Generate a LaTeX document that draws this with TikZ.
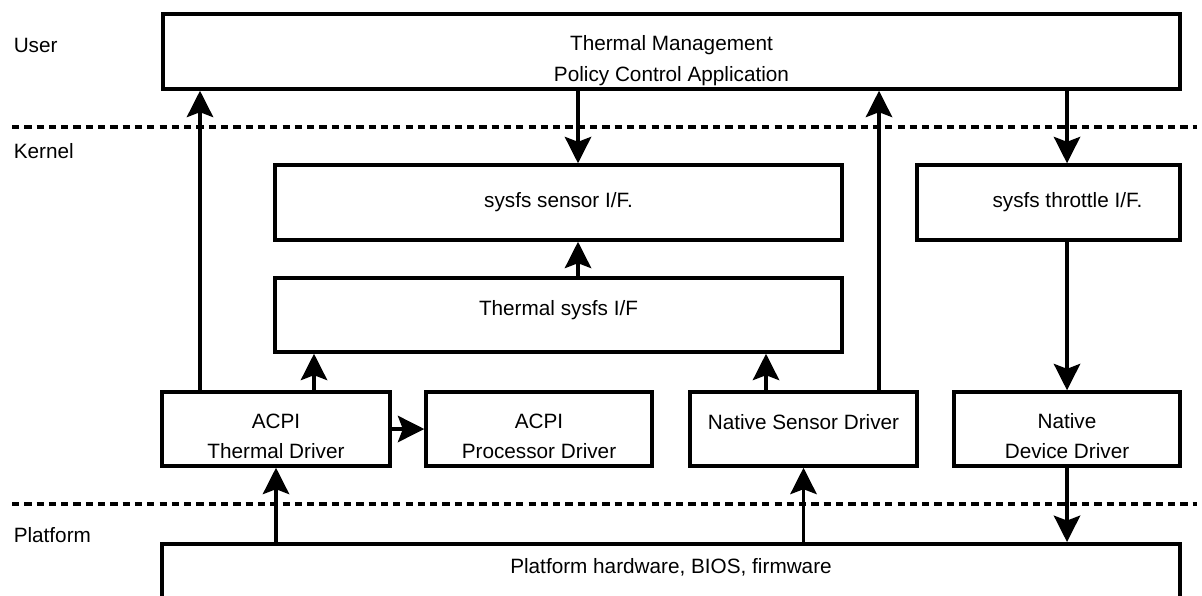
\documentclass[tikz,border=0pt]{standalone}
\usepackage{fontspec}
\setmainfont{Liberation Sans}
\usetikzlibrary{arrows.meta}

\tikzset{
  box/.style={draw, line width=2pt, minimum height=1.5cm, align=center, inner sep=0pt},
  firstline/.style={text height=0pt, text depth=0pt},
  twolines/.style={text height=34pt, text depth=0pt},
  layer/.style={line width=2pt, dash pattern=on 4.1pt off 2.9pt},
  side/.style={anchor=base west, inner sep=0pt},
}

\begin{document}
\begin{tikzpicture}[x=0.02cm, y=-0.02cm, >={Stealth[length=15pt,width=15pt,inset=2.8pt]}, line width=2pt, font=\fontsize{11.8pt}{17.3pt}\selectfont]
\useasboundingbox (0,0) rectangle (1202,595);

% layers
\draw [layer](12,127)--(1197,127);
\draw [layer](12,504)--(1197,504);
\node [side] (user) at (12,52){User};
\node [side] (kernel) at (12,158){Kernel};
\node [side] (platform) at (12,542){Platform};

% boxes
\node [box,twolines,minimum width=20.34cm] (app) at (671.5,51.5){Thermal Management\\Policy Control Application};
\node [box,minimum width=11.34cm] (sensor) at (558.5,202.5){sysfs sensor I/F.};
\node [box,minimum width=5.26cm] (throttle) at (1048.5,202.5){\hspace*{21.5pt}sysfs throttle I/F.};
\node [box,firstline,minimum width=11.34cm,minimum height=1.48cm] (tsysfs) at (558.5,315){Thermal sysfs I/F};
\node [box,twolines,minimum width=4.56cm,minimum height=1.48cm] (acpith) at (276,429){ACPI\\Thermal Driver};
\node [box,twolines,minimum width=4.52cm,minimum height=1.48cm] (acpipr) at (539,429){ACPI\\Processor Driver};
\node [box,firstline,minimum width=4.54cm,minimum height=1.48cm] (natsen) at (803.5,429){Native Sensor Driver};
\node [box,twolines,minimum width=4.52cm,minimum height=1.48cm] (natdev) at (1067,429){Native\\Device Driver};
\node [box,anchor=north,minimum width=20.36cm,minimum height=2cm] (plat) at (671,542){};
\node [anchor=base] (plattext) at (671,573){Platform hardware, BIOS, firmware};

% arrows
\coordinate (c1) at (200,0);
\coordinate (c2) at (314,0);
\coordinate (c3) at (578,0);
\coordinate (c4) at (766,0);
\coordinate (c5) at (879,0);
\draw [->](acpith.north -| c1)--(app.south -| c1);
\draw [->](acpith.north -| c2)--(tsysfs.south -| c2);
\draw [->](app.south -| c3)--(sensor.north -| c3);
\draw [->](tsysfs.north -| c3)--(sensor.south -| c3);
\draw [->](natsen.north -| c4)--(tsysfs.south -| c4);
\draw [->](natsen.north -| c5)--(app.south -| c5);
\draw [->](app.south -| natdev)--(throttle.north -| natdev);
\draw [->](throttle.south -| natdev)--(natdev.north);
\draw [->](natdev.south)--(plat.north -| natdev);
\draw [->](plat.north -| acpith)--(acpith.south);
\draw [->](plat.north -| natsen)--(natsen.south);
\draw [->](acpith)--(acpipr);

\end{tikzpicture}
\end{document}
